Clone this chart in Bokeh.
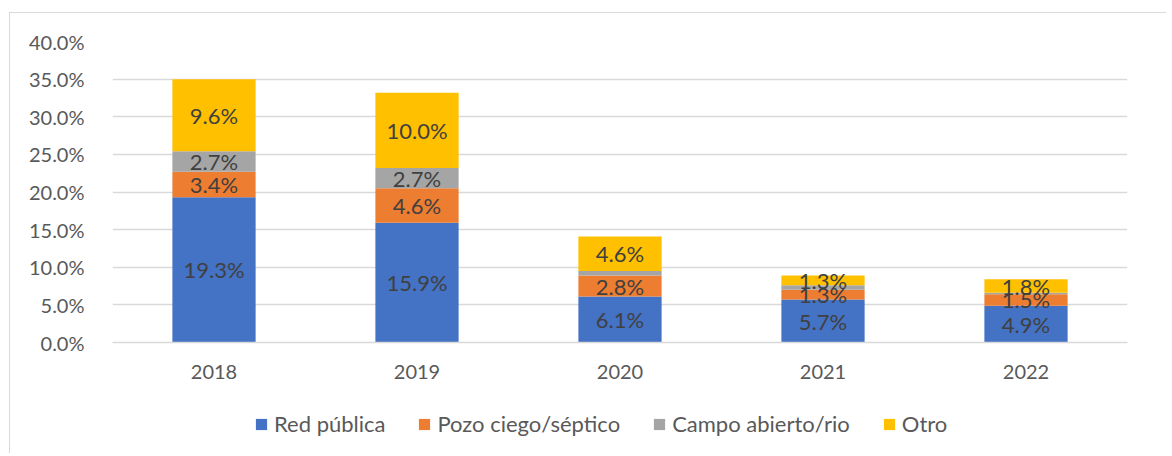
from bokeh.plotting import figure
from bokeh.layouts import column
from bokeh.models import ColumnDataSource, FixedTicker, Legend, LegendItem
from bokeh.core.properties import value
from bokeh.embed import file_html
from bokeh.resources import INLINE

years = ["2018", "2019", "2020", "2021", "2022"]
series = ["Red pública", "Pozo ciego/séptico", "Campo abierto/rio", "Otro"]
red_publica = [19.3, 15.9, 6.1, 5.7, 4.9]
pozo_ciego = [3.4, 4.6, 2.8, 1.3, 1.5]
campo_abierto = [2.7, 2.7, 0.6, 0.6, 0.2]
otro = [9.6, 10.0, 4.6, 1.3, 1.8]
y_ticks = [0, 5, 10, 15, 20, 25, 30, 35, 40]

colors = ["#4472C4", "#ED7D31", "#A5A5A5", "#FFC000"]
keys = ["s0", "s1", "s2", "s3"]
data = {"year": years, "s0": red_publica, "s1": pozo_ciego, "s2": campo_abierto, "s3": otro}
src = ColumnDataSource(data)

FONT = "Lato"

p = figure(x_range=years, y_range=(0, 40), width=1156, height=382,
           output_backend="svg", toolbar_location=None,
           min_border_left=102, min_border_right=39, min_border_top=28, min_border_bottom=53)
p.outline_line_color = None
p.background_fill_color = "white"
p.border_fill_color = "white"

renderers = p.vbar_stack(keys, x="year", width=0.41, color=colors, source=src, line_color=None)

# data labels
lx, ly, lt = [], [], []
cols = [red_publica, pozo_ciego, campo_abierto, otro]
for i, yr in enumerate(years):
    base = 0.0
    for s in range(4):
        v = cols[s][i]
        if v >= 1.0:
            lx.append(yr)
            ly.append(base + v / 2)
            lt.append(f"{v:.1f}%")
        base += v
lsrc = ColumnDataSource(dict(x=lx, y=ly, t=lt))
p.text(x="x", y="y", text="t", source=lsrc, text_align="center", text_baseline="middle",
       text_font=value(FONT), text_font_size="22px", text_color="#404040")

p.yaxis.ticker = FixedTicker(ticks=y_ticks)
p.yaxis.major_label_overrides = {t: f"{t:.1f}%" for t in y_ticks}
p.yaxis.axis_line_color = None
p.yaxis.major_tick_line_color = None
p.yaxis.minor_tick_line_color = None
p.yaxis.major_label_text_font = FONT
p.yaxis.major_label_text_font_size = "20px"
p.yaxis.major_label_text_color = "#595959"
p.yaxis.major_label_standoff = 22

p.xaxis.axis_line_color = "#d9d9d9"
p.xaxis.axis_line_width = 1.5
p.xaxis.major_tick_line_color = None
p.xaxis.minor_tick_line_color = None
p.xaxis.major_label_text_font = FONT
p.xaxis.major_label_text_font_size = "20px"
p.xaxis.major_label_text_color = "#595959"
p.xaxis.major_label_standoff = 16

p.xgrid.grid_line_color = None
p.ygrid.grid_line_color = "#d9d9d9"
p.ygrid.grid_line_width = 1.5

# legend strip: hidden renderers, only the legend shows
q = figure(x_range=years, y_range=(0, 40), width=1156, height=58,
           output_backend="svg", toolbar_location=None,
           min_border_left=0, min_border_right=0, min_border_top=0, min_border_bottom=0)
q.outline_line_color = None
q.axis.visible = False
q.grid.grid_line_color = None
q_renderers = q.vbar_stack(keys, x="year", width=0.41, color=colors, source=src, line_color=None)
for r in q_renderers:
    r.visible = False
legend = Legend(items=[LegendItem(label=series[i], renderers=[q_renderers[i]]) for i in range(4)],
                orientation="horizontal", location=(142, 16),
                label_text_font=FONT, label_text_font_size="22px", label_text_color="#595959",
                glyph_width=14, glyph_height=14, label_standoff=6, spacing=32,
                border_line_color=None, background_fill_alpha=0, padding=0, margin=0,
                inactive_fill_alpha=0)
q.add_layout(legend, "center")

layout = column(p, q, spacing=0,
                styles={"border-top": "1px solid #d9d9d9", "border-left": "1px solid #d9d9d9",
                        "margin-left": "9px", "margin-top": "12px"})

open("out.html", "w").write(file_html(layout, INLINE))
